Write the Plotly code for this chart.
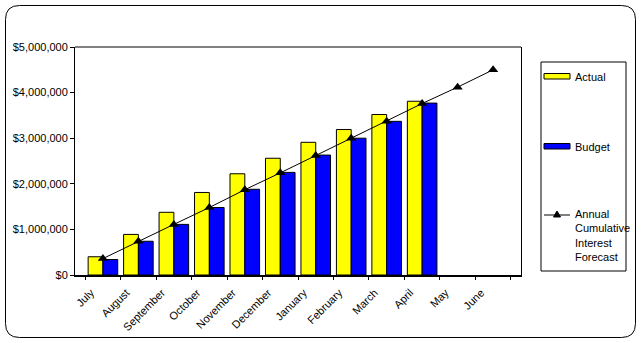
import plotly.graph_objects as go

# Monthly figures (USD)
months = ["July", "August", "September", "October", "November", "December",
          "January", "February", "March", "April", "May", "June"]
actual = [400000, 890000, 1375000, 1810000, 2220000, 2560000,
          2910000, 3190000, 3520000, 3810000, None, None]
budget = [340000, 740000, 1110000, 1480000, 1880000, 2250000,
          2630000, 3000000, 3370000, 3770000, None, None]
forecast = [360000, 740000, 1110000, 1480000, 1870000, 2240000,
            2620000, 3000000, 3370000, 3760000, 4120000, 4500000]

W, H = 642, 343
L, R, T, B = 75, 521, 47, 275   # plot area in pixels

def px(x):
    return (x - L) / (R - L)

def py(y):
    return (B - y) / (B - T)

FONT = "Liberation Sans, Arial, sans-serif"

fig = go.Figure()
fig.add_trace(go.Bar(x=months, y=actual, name="Actual",
                     marker=dict(color="#FFFF00", line=dict(color="black", width=1))))
fig.add_trace(go.Bar(x=months, y=budget, name="Budget",
                     marker=dict(color="#0000FF", line=dict(color="black", width=1))))
fig.add_trace(go.Scatter(x=months, y=forecast, mode="lines+markers",
                         name="Annual Cumulative Interest Forecast",
                         line=dict(color="black", width=1),
                         marker=dict(symbol="triangle-up", size=9, color="black")))

shapes = []
# plot-area top edge
shapes.append(dict(type="line", xref="paper", yref="paper", x0=0, x1=1, y0=1, y1=1,
                   line=dict(color="black", width=1)))

# rounded outer frame
x0, y0, x1, y1, r = 5.5, 5.5, 635.5, 337.5, 14
def P(x, y):
    return f"{px(x):.5f},{py(y):.5f}"
frame = (f"M {P(x0 + r, y0)} L {P(x1 - r, y0)} Q {P(x1, y0)} {P(x1, y0 + r)} "
         f"L {P(x1, y1 - r)} Q {P(x1, y1)} {P(x1 - r, y1)} "
         f"L {P(x0 + r, y1)} Q {P(x0, y1)} {P(x0, y1 - r)} "
         f"L {P(x0, y0 + r)} Q {P(x0, y0)} {P(x0 + r, y0)} Z")
shapes.append(dict(type="path", xref="paper", yref="paper", path=frame,
                   line=dict(color="black", width=1), layer="below"))

# legend box
shapes.append(dict(type="rect", xref="paper", yref="paper",
                   x0=px(541), x1=px(626), y0=py(62), y1=py(271),
                   line=dict(color="black", width=1), fillcolor="white"))
# legend swatches
shapes.append(dict(type="rect", xref="paper", yref="paper",
                   x0=px(544), x1=px(570), y0=py(73.5), y1=py(79),
                   line=dict(color="black", width=1), fillcolor="#FFFF00"))
shapes.append(dict(type="rect", xref="paper", yref="paper",
                   x0=px(544), x1=px(570), y0=py(143.5), y1=py(149),
                   line=dict(color="black", width=1), fillcolor="#0000FF"))
shapes.append(dict(type="line", xref="paper", yref="paper",
                   x0=px(544), x1=px(570), y0=py(215), y1=py(215),
                   line=dict(color="black", width=1)))
tri = f"M {P(557, 211)} L {P(560.5, 217)} L {P(553.5, 217)} Z"
shapes.append(dict(type="path", xref="paper", yref="paper", path=tri,
                   line=dict(color="black", width=1), fillcolor="black"))

annotations = [
    dict(text="Actual", x=px(573), y=py(76.5), xref="paper", yref="paper",
         xanchor="left", yanchor="middle", showarrow=False,
         font=dict(family=FONT, size=11, color="black")),
    dict(text="Budget", x=px(573), y=py(146.5), xref="paper", yref="paper",
         xanchor="left", yanchor="middle", showarrow=False,
         font=dict(family=FONT, size=11, color="black")),
    dict(text="Annual<br>Cumulative<br>Interest<br>Forecast", x=px(573), y=py(206),
         xref="paper", yref="paper", xanchor="left", yanchor="top", align="left",
         showarrow=False, font=dict(family=FONT, size=11, color="black")),
]

fig.update_layout(
    width=W, height=H,
    margin=dict(l=L, r=W - R, t=T, b=H - B, pad=0, autoexpand=False),
    paper_bgcolor="white", plot_bgcolor="white",
    barmode="group", bargap=0.166, bargroupgap=0,
    showlegend=False,
    font=dict(family=FONT, size=11, color="black"),
    shapes=shapes, annotations=annotations,
)
fig.update_xaxes(type="category", tickangle=-45, showline=True, linecolor="black",
                 linewidth=2, ticks="outside", ticklen=3, tickcolor="black",
                 tickson="boundaries", showgrid=False, zeroline=False,
                 ticklabelshift=-12, ticklabelstandoff=5, automargin=False,
                 tickfont=dict(family=FONT, size=11, color="black"))
fig.update_yaxes(range=[0, 5000000], dtick=1000000, tickformat="$,.0f",
                 showline=True, linecolor="black", linewidth=1, mirror=True,
                 ticks="outside", ticklen=4, tickcolor="black",
                 showgrid=False, zeroline=False, automargin=False,
                 tickfont=dict(family=FONT, size=11, color="black"))

fig.write_html("out.html")
